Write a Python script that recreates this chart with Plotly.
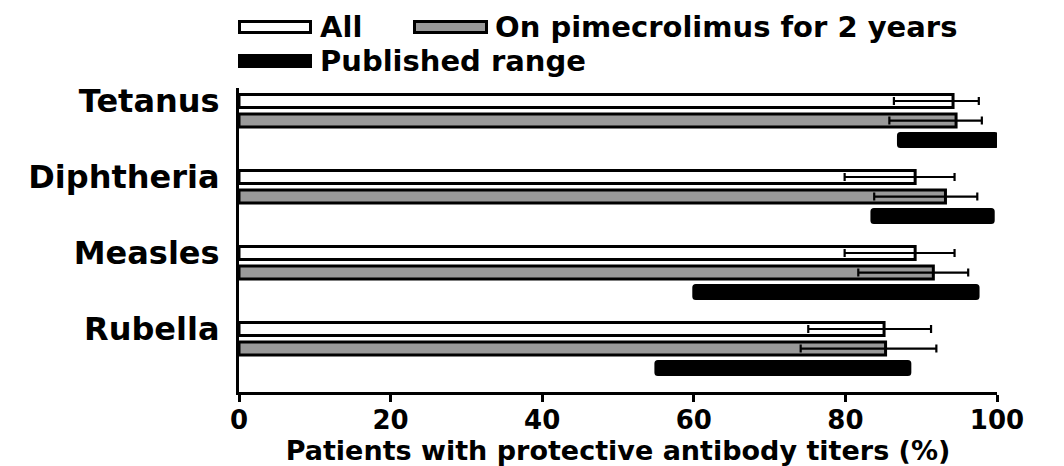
import plotly.graph_objects as go

categories = ["Tetanus", "Diphtheria", "Measles", "Rubella"]
all_values = [94.2, 89.2, 89.2, 85.1]
all_lower = [86.4, 79.9, 79.9, 75.1]
all_upper = [97.6, 94.4, 94.4, 91.3]
pime_values = [94.6, 93.2, 91.6, 85.3]
pime_lower = [85.8, 83.8, 81.7, 74.1]
pime_upper = [98.0, 97.4, 96.2, 92.0]
range_low = [87.0, 83.5, 60.0, 55.0]
range_high = [100.0, 99.5, 97.5, 88.5]

x_ticks = [0, 20, 40, 60, 80, 100]
series_names = ["All", "On pimecrolimus for 2 years", "Published range"]
series_colors = ["white", "#999999", "black"]

err_all_plus = [u - v for u, v in zip(all_upper, all_values)]
err_all_minus = [v - l for l, v in zip(all_lower, all_values)]
err_p_plus = [u - v for u, v in zip(pime_upper, pime_values)]
err_p_minus = [v - l for l, v in zip(pime_lower, pime_values)]

FONT = "DejaVu Sans"
PAGE_OFFSET = 8  # default body margin of the html page
FIG_W = 1064 - PAGE_OFFSET
FIG_H = 466 - PAGE_OFFSET
M_L, M_R, M_T, M_B = 239 - PAGE_OFFSET, 67, 88 - PAGE_OFFSET, 74

fig = go.Figure()
fig.add_trace(go.Bar(
    y=categories, x=all_values, orientation="h", name=series_names[0],
    marker=dict(color=series_colors[0], line=dict(color="black", width=3)),
    error_x=dict(type="data", array=err_all_plus, arrayminus=err_all_minus,
                 color="black", thickness=2.2, width=4),
    showlegend=False,
))
fig.add_trace(go.Bar(
    y=categories, x=pime_values, orientation="h", name=series_names[1],
    marker=dict(color=series_colors[1], line=dict(color="black", width=3)),
    error_x=dict(type="data", array=err_p_plus, arrayminus=err_p_minus,
                 color="black", thickness=2.2, width=4),
    showlegend=False,
))
fig.add_trace(go.Bar(
    y=categories, x=[h - l for l, h in zip(range_low, range_high)], base=range_low,
    orientation="h", name=series_names[2],
    marker=dict(color=series_colors[2], line=dict(color="black", width=3), cornerradius=2),
    showlegend=False,
))

# Legend drawn as swatches + text (paper coordinates, above the plot)
W_PLOT = FIG_W - M_L - M_R
H_PLOT = FIG_H - M_T - M_B

def px_x(p):
    return (p - PAGE_OFFSET - M_L) / W_PLOT

def px_y(p):
    return (FIG_H - M_B - (p - PAGE_OFFSET)) / H_PLOT

legend_items = [
    # (swatch left, swatch right, row centre, text left) in page pixels
    (238, 312, 27, 318),
    (413, 488, 27, 493),
    (238, 312, 61, 318),
]
shapes = []
annotations = []
for (x0, x1, yc, tx), name, col in zip(legend_items, series_names, series_colors):
    shapes.append(dict(type="rect", xref="paper", yref="paper",
                       x0=px_x(x0 + 1.5), x1=px_x(x1 - 1.5),
                       y0=px_y(yc + 5.5), y1=px_y(yc - 5.5),
                       fillcolor=col, line=dict(color="black", width=3)))
    annotations.append(dict(xref="paper", yref="paper", x=px_x(tx), y=px_y(yc),
                            xanchor="left", yanchor="middle", showarrow=False,
                            text=name,
                            font=dict(family=FONT, size=29, color="black", weight="bold")))

fig.update_layout(
    width=FIG_W, height=FIG_H,
    margin=dict(l=M_L, r=M_R, t=M_T, b=M_B),
    paper_bgcolor="white", plot_bgcolor="white",
    barmode="group", bargap=0.23, bargroupgap=0.33,
    font=dict(family=FONT, size=26, color="black", weight="bold"),
    showlegend=False,
    shapes=shapes, annotations=annotations,
)
fig.update_xaxes(
    range=[0, 100], tickvals=x_ticks, ticktext=[str(t) for t in x_ticks],
    showline=True, linecolor="black", linewidth=3,
    ticks="outside", ticklen=7, tickwidth=3, tickcolor="black",
    showgrid=False, zeroline=False, automargin=False,
    tickfont=dict(size=26, family=FONT, weight="bold"),
    ticklabelstandoff=-4,
    title=dict(text="Patients with protective antibody titers (%)",
               font=dict(size=27, family=FONT, weight="bold"), standoff=8),
)
fig.update_yaxes(
    range=[3.572, -0.428], showline=True, linecolor="black", linewidth=3,
    ticks="", showgrid=False, zeroline=False, automargin=False,
    tickfont=dict(size=32, family=FONT, weight="bold"),
    ticklabelshift=20, ticklabelstandoff=10,
)

fig.write_html("out.html")
